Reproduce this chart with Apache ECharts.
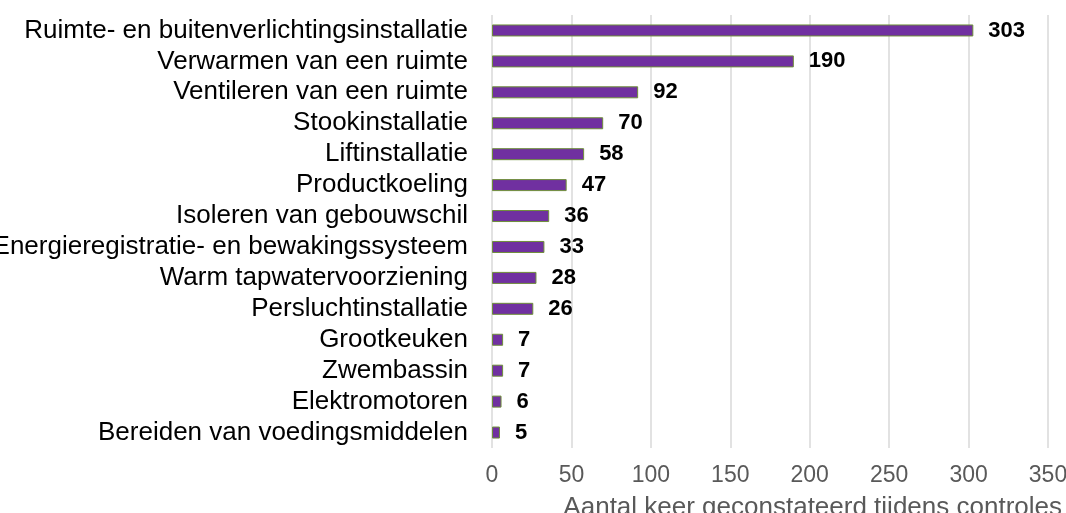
<!DOCTYPE html>
<html>
<head>
<meta charset="utf-8">
<script src="https://cdn.jsdelivr.net/npm/echarts@6/dist/echarts.min.js"></script>
<style>
html,body{margin:0;padding:0;background:#fff;}
#c{width:1066px;height:513px;}
</style>
</head>
<body>
<div id="c"></div>
<script>
const categories = [
  "Ruimte- en buitenverlichtingsinstallatie",
  "Verwarmen van een ruimte",
  "Ventileren van een ruimte",
  "Stookinstallatie",
  "Liftinstallatie",
  "Productkoeling",
  "Isoleren van gebouwschil",
  "Energieregistratie- en bewakingssysteem",
  "Warm tapwatervoorziening",
  "Persluchtinstallatie",
  "Grootkeuken",
  "Zwembassin",
  "Elektromotoren",
  "Bereiden van voedingsmiddelen"
];
const values = [303, 190, 92, 70, 58, 47, 36, 33, 28, 26, 7, 7, 6, 5];
const axisTitle = "Aantal keer geconstateerd tijdens controles";

const chart = echarts.init(document.getElementById('c'));
const FONT = '"Liberation Sans", Arial, sans-serif';
chart.setOption({
  animation: false,
  grid: { left: 492, right: 18, top: 15, bottom: 65, containLabel: false, outerBoundsMode: 'none' },
  xAxis: {
    type: 'value', min: 0, max: 350, interval: 50,
    axisLine: { show: false }, axisTick: { show: false },
    splitLine: { lineStyle: { color: '#d9d9d9', width: 1.5 } },
    axisLabel: { color: '#595959', fontSize: 23, fontFamily: FONT, margin: 16 }
  },
  yAxis: {
    type: 'category', data: categories, inverse: true,
    axisLine: { show: false }, axisTick: { show: false },
    axisLabel: { color: '#000', fontSize: 26, fontFamily: FONT, margin: 24, interval: 0, hideOverlap: false }
  },
  series: [{
    type: 'bar', data: values, barWidth: 12,
    itemStyle: { color: '#7030A0', borderColor: '#6f8f3a', borderWidth: 1 },
    label: { show: true, position: 'right', distance: 15, color: '#000', fontWeight: 'bold', fontSize: 22, fontFamily: FONT }
  }],
  graphic: [{
    type: 'text', right: 4, top: 495,
    style: { text: axisTitle, fill: '#595959', font: '26px ' + FONT }
  }]
});
</script>
</body>
</html>
